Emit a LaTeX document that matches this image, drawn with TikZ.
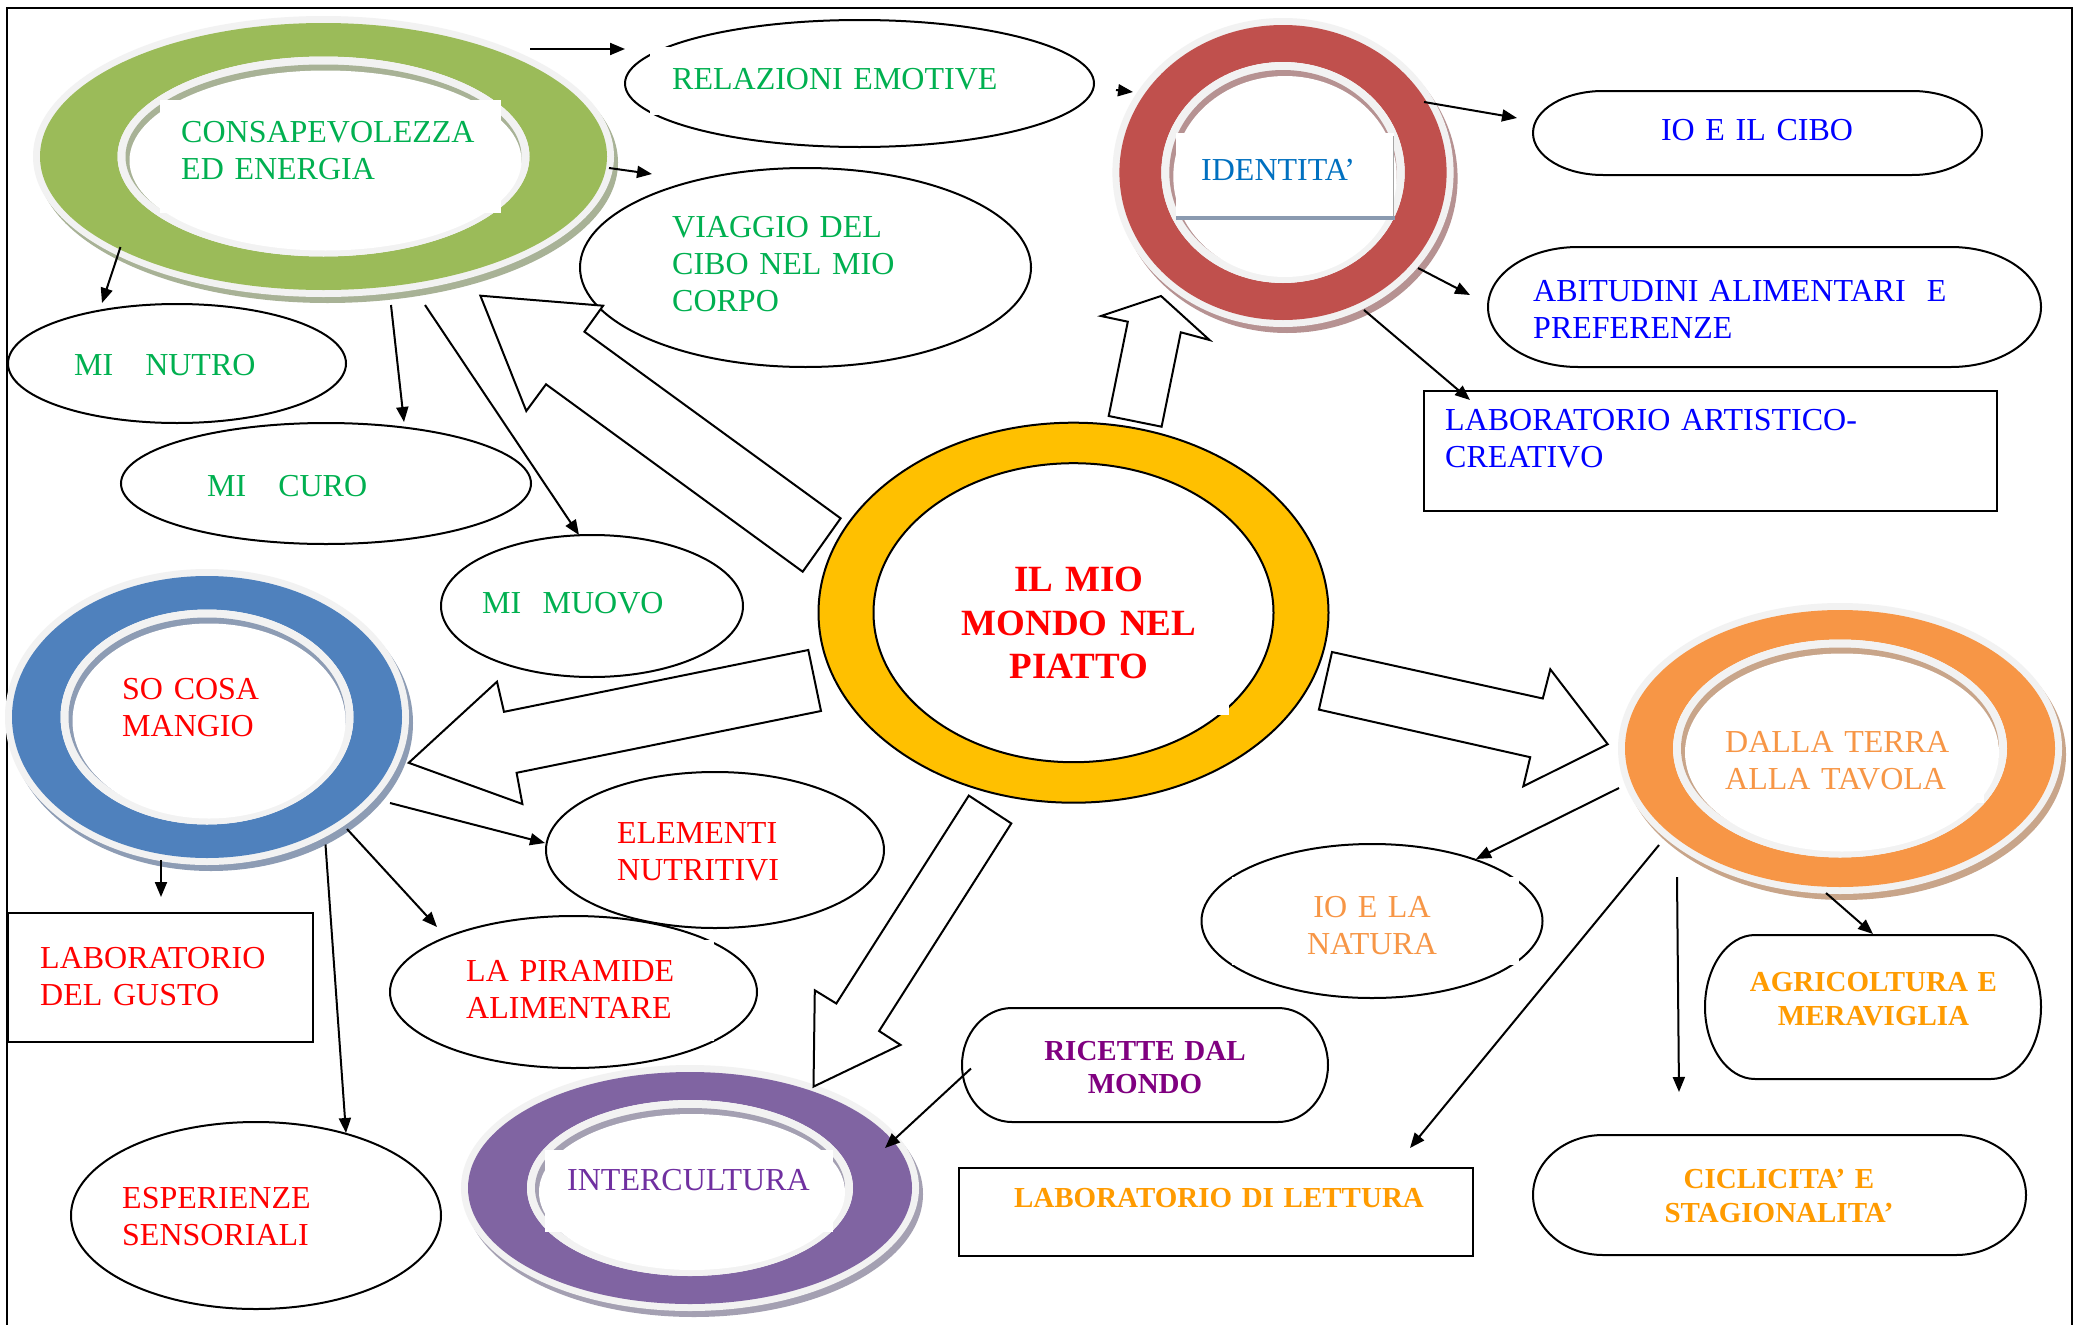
\documentclass[tikz,border=0pt]{standalone}
\usepackage{fontspec}
\setmainfont{Liberation Serif}
\usetikzlibrary{arrows.meta,shapes.geometric}
\definecolor{gring}{RGB}{155,187,89}
\definecolor{gshad}{RGB}{168,178,150}
\definecolor{rring}{RGB}{192,80,77}
\definecolor{rshad}{RGB}{182,146,146}
\definecolor{bring}{RGB}{79,129,189}
\definecolor{bshad}{RGB}{141,156,180}
\definecolor{pring}{RGB}{128,100,162}
\definecolor{pshad}{RGB}{164,160,178}
\definecolor{oring}{RGB}{247,150,70}
\definecolor{oshad}{RGB}{200,165,138}
\definecolor{yring}{RGB}{255,192,0}
\definecolor{rimgray}{RGB}{242,242,242}
\definecolor{tgreen}{RGB}{0,176,80}
\definecolor{tred}{RGB}{255,0,0}
\definecolor{tblue}{RGB}{0,0,255}
\definecolor{tidblue}{RGB}{0,112,192}
\definecolor{tpurple}{RGB}{112,48,160}
\definecolor{tmag}{RGB}{128,0,128}
\definecolor{torange}{RGB}{255,155,0}
\definecolor{tlorange}{RGB}{247,150,70}
\definecolor{idline}{RGB}{138,154,176}
\newcommand\drawring[8]{%
  \fill[#8] (#1+4,#2+6) ellipse [x radius=#3+7, y radius=#4+7];
  \fill[rimgray] (#1,#2) ellipse [x radius=#3+7, y radius=#4+7];
  \fill[#7, even odd rule] (#1,#2) ellipse [x radius=#3, y radius=#4] (#1,#2) ellipse [x radius=#5, y radius=#6];
  \fill[rimgray] (#1,#2) ellipse [x radius=#5, y radius=#6];
  \fill[#8] (#1,#2) ellipse [x radius=#5-8, y radius=#6-8];
  \fill[white] (#1+2,#2+4) ellipse [x radius=#5-10, y radius=#6-10];
}
% pill: name, x1, y1, x2, y2, rx, ry
\newcommand\drawpill[7]{%
  \coordinate (#1) at ({(#2+#4)/2},{(#3+#5)/2});
  \draw[outl] (#2+#6,#3) -- (#4-#6,#3)
    .. controls (#4-#6+0.5523*#6,#3) and (#4,#3+#7-0.5523*#7) .. (#4,#3+#7)
    -- (#4,#5-#7)
    .. controls (#4,#5-#7+0.5523*#7) and (#4-#6+0.5523*#6,#5) .. (#4-#6,#5)
    -- (#2+#6,#5)
    .. controls (#2+#6-0.5523*#6,#5) and (#2,#5-#7+0.5523*#7) .. (#2,#5-#7)
    -- (#2,#3+#7)
    .. controls (#2,#3+#7-0.5523*#7) and (#2+#6-0.5523*#6,#3) .. (#2+#6,#3) -- cycle;
}
\tikzset{
  outl/.style={draw=black, line width=2pt},
  ell/.style={ellipse, draw=black, line width=2pt, inner sep=0pt},
  boxr/.style={rectangle, draw=black, line width=2pt, inner sep=0pt},
  arr/.style={draw=black, line width=2pt, -{Triangle[length=15pt,width=12pt]}},
  hollow/.style={draw=black, line width=2pt, fill=white, line join=miter},
  txt/.style={inner sep=0pt, anchor=base west, align=left, text width=#1},
  ctxt/.style={inner sep=0pt, anchor=base, align=center, text width=#1},
  reg/.style={font=\fontsize{32}{37}\selectfont},
  bld/.style={font=\fontsize{29}{34}\selectfont\bfseries},
  ringnode/.style={ellipse, inner sep=0pt}
}
\begin{document}
\begin{tikzpicture}[x=1pt,y=-1pt]
\useasboundingbox (0,0) rectangle (2080,1325);
\fill[white] (0,0) rectangle (2080,1325);
\draw[line width=2pt] (7,8) rectangle (2072,1345);

% ---------- rings ----------
\drawring{323.5}{156.5}{283.5}{133.5}{206}{100}{gring}{gshad}
\node[ringnode, minimum width=567pt, minimum height=267pt] (ringG) at (323.5,156.5) {};
\drawring{1283}{172.5}{163.6}{147.5}{121.7}{110.5}{rring}{rshad}
\node[ringnode, minimum width=327pt, minimum height=295pt] (ringR) at (1283,172.5) {};
\drawring{207}{717}{195}{141}{146.5}{107.5}{bring}{bshad}
\node[ringnode, minimum width=390pt, minimum height=282pt] (ringB) at (207,717) {};
\drawring{690}{1188}{222}{116}{163}{88}{pring}{pshad}
\node[ringnode, minimum width=444pt, minimum height=232pt] (ringP) at (690,1188) {};
\drawring{1840}{748.5}{215}{138.5}{167}{109}{oring}{oshad}
\node[ringnode, minimum width=430pt, minimum height=277pt] (ringO) at (1840,748.5) {};
\draw[fill=yring, even odd rule, line width=2pt] (1073.5,612.7) ellipse [x radius=255, y radius=190] (1073.5,612.7) ellipse [x radius=200, y radius=149.5];
\node[ringnode, minimum width=510pt, minimum height=380pt] (ringC) at (1073.5,612.7) {};

% ---------- ellipses, boxes, pills ----------
\node[ell, minimum width=469pt, minimum height=127pt] (eRel) at (859.5,83.5) {};
\node[ell, minimum width=451pt, minimum height=199pt] (eVia) at (805.5,267.5) {};
\node[ell, minimum width=338pt, minimum height=119pt] (eNut) at (177,363.5) {};
\node[ell, minimum width=410pt, minimum height=121pt] (eCur) at (326,483.5) {};
\node[ell, minimum width=302pt, minimum height=142pt] (eMuo) at (592,606) {};
\node[ell, minimum width=338pt, minimum height=156pt] (eEle) at (715,850) {};
\node[ell, minimum width=367pt, minimum height=152pt] (ePir) at (573.5,992) {};
\node[ell, minimum width=370pt, minimum height=187pt] (eEsp) at (256,1215.5) {};
\node[ell, minimum width=341pt, minimum height=154pt] (eNat) at (1372,921) {};
\node[boxr, minimum width=305.5pt, minimum height=129pt] (bGus) at (160.25,977.5) {};
\node[boxr, minimum width=514pt, minimum height=87.5pt] (bLet) at (1216,1211.75) {};
\node[boxr, minimum width=572.5pt, minimum height=120pt] (bArt) at (1710.25,451) {};
\drawpill{pRic}{962}{1008}{1328}{1122}{50}{57}
\drawpill{pAgr}{1705}{935}{2041}{1079}{50}{72}
\drawpill{pCic}{1533}{1135}{2026}{1255}{70}{60}
\drawpill{pCib}{1533}{91}{1982}{175}{70}{42}
\drawpill{pAbi}{1488}{247}{2041}{367}{90}{60}

% ---------- white text-box patches ----------
\fill[white] (650,47) rectangle (1040,115);
\fill[white] (460,940) rectangle (714,1041);
\fill[white] (1232,877) rectangle (1519,965);
\fill[white] (160,100) rectangle (501,213);
\fill[white] (545,1150) rectangle (833,1232);
\fill[white] (1722,715) rectangle (1984,803);
\fill[white] (950,560) rectangle (1229,715);
\fill[white] (1176,133) rectangle (1394,220);
\draw[line width=1pt, draw=black!35] (1393.5,136) -- (1393.5,220);
\draw[line width=4pt, draw=idline] (1176,218) -- (1395,218);

% ---------- hollow block arrows ----------
\draw[hollow] (480.4,295.7) -- (603.1,305.7) -- (584.4,331.7) -- (840.6,518.3) -- (802.7,571.7) -- (546,384.3) -- (526.3,411) -- cycle;
\draw[hollow] (1161,296) -- (1209.5,340) -- (1180.8,332.3) -- (1161.6,426.7) -- (1108.7,416) -- (1127.8,321.7) -- (1101,316) -- cycle;
\draw[hollow] (408.7,762.8) -- (497,681.7) -- (504,711.8) -- (808.3,650) -- (821,711) -- (516.6,772.8) -- (522.4,804) -- cycle;
\draw[hollow] (813.5,1086.6) -- (814.8,990.3) -- (836.3,1003.5) -- (968.8,795.6) -- (1011.3,823.4) -- (879.1,1031) -- (900.5,1044.9) -- cycle;
\draw[hollow] (1607.7,744.2) -- (1523.3,786.3) -- (1530.2,757.2) -- (1318.9,709.6) -- (1332,652) -- (1542.8,698.5) -- (1550.3,669.3) -- cycle;

% ---------- connector end points ----------
\coordinate (a1s) at (530,49);      \coordinate (a1e) at (625,49);
\coordinate (a2s) at (609,168);     \coordinate (a2e) at (652,174);
\coordinate (a3s) at (120.5,247);   \coordinate (a3e) at (102,303);
\coordinate (a4s) at (391,305);     \coordinate (a4e) at (404,422);
\coordinate (a5s) at (425,305);     \coordinate (a5e) at (579,535);
\coordinate (a6s) at (1116,90);     \coordinate (a6e) at (1133,92);
\coordinate (a7s) at (1424,102);    \coordinate (a7e) at (1517,118);
\coordinate (a8s) at (1418,268);    \coordinate (a8e) at (1470,295);
\coordinate (a9s) at (1364,310);    \coordinate (a9e) at (1470,400);
\coordinate (b1s) at (390,803);     \coordinate (b1e) at (545,843);
\coordinate (b2s) at (347,829);     \coordinate (b2e) at (437,927);
\coordinate (b3s) at (161,860);     \coordinate (b3e) at (161,897);
\coordinate (b4s) at (325.5,844.5); \coordinate (b4e) at (346,1133);
\coordinate (c1s) at (971,1068.5);  \coordinate (c1e) at (885,1148);
\coordinate (o1s) at (1619,788);    \coordinate (o1e) at (1476,859);
\coordinate (o2s) at (1659,845);    \coordinate (o2e) at (1410,1148);
\coordinate (o3s) at (1677,877);    \coordinate (o3e) at (1679,1092);
\coordinate (o4s) at (1826,893);    \coordinate (o4e) at (1873,934);

\draw[arr] (a1s) -- (a1e);
\draw[arr] (a2s) -- (a2e);
\draw[arr] (a3s) -- (a3e);
\draw[arr] (a4s) -- (a4e);
\draw[arr] (a5s) -- (a5e);
\draw[arr] (a6s) -- (a6e);
\draw[arr] (a7s) -- (a7e);
\draw[arr] (a8s) -- (a8e);
\draw[arr] (a9s) -- (a9e);
\draw[arr] (b1s) -- (b1e);
\draw[arr] (b2s) -- (b2e);
\draw[arr] (b3s) -- (b3e);
\draw[arr] (b4s) -- (b4e);
\draw[arr] (c1s) -- (c1e);
\draw[arr] (o1s) -- (o1e);
\draw[arr] (o2s) -- (o2e);
\draw[arr] (o3s) -- (o3e);
\draw[arr] (o4s) -- (o4e);

% ---------- texts ----------
\node[txt=330pt, reg, text=tgreen] (tCons) at (181,142) {CONSAPEVOLEZZA\\ED ENERGIA};
\node[txt=400pt, reg, text=tgreen] (tRel) at (672,89) {RELAZIONI EMOTIVE};
\node[txt=330pt, reg, text=tgreen] (tVia) at (672,237) {VIAGGIO DEL\\CIBO NEL MIO\\CORPO};
\node[txt=250pt, reg, text=tgreen] (tNut) at (74,375) {MI\ \ \ NUTRO};
\node[txt=250pt, reg, text=tgreen] (tCur) at (207,496) {MI\ \ \ CURO};
\node[txt=250pt, reg, text=tgreen] (tMuo) at (482,613) {MI\ \ MUOVO};
\node[txt=250pt, reg, text=tred] (tSo) at (122,699) {SO COSA\\MANGIO};
\node[txt=250pt, reg, text=tred] (tEle) at (617,843) {ELEMENTI\\NUTRITIVI};
\node[txt=280pt, reg, text=tred] (tPir) at (466,981) {LA PIRAMIDE\\ALIMENTARE};
\node[txt=260pt, reg, text=tred] (tGus) at (40,968) {LABORATORIO\\DEL GUSTO};
\node[txt=280pt, reg, text=tred] (tEsp) at (122,1208.5) {ESPERIENZE\\SENSORIALI};
\node[txt=300pt, reg, text=tpurple] (tInt) at (567,1190) {INTERCULTURA};
\node[ctxt=360pt, bld, text=tmag, font=\fontsize{29}{33}\selectfont\bfseries] (tRic) at (1145,1060) {RICETTE DAL\\MONDO};
\node[ctxt=500pt, bld, text=torange] (tLet) at (1219,1207.5) {LABORATORIO DI LETTURA};
\node[ctxt=330pt, reg, text=tlorange] (tNat) at (1372,917) {IO E LA\\NATURA};
\node[txt=330pt, reg, text=tlorange] (tDal) at (1725,752.6) {DALLA TERRA\\ALLA TAVOLA};
\node[ctxt=330pt, bld, text=torange] (tAgr) at (1873.5,991) {AGRICOLTURA E\\MERAVIGLIA};
\node[ctxt=480pt, bld, text=torange] (tCic) at (1779,1188) {CICLICITA’ E\\STAGIONALITA’};
\node[ctxt=380pt, text=tred, font=\fontsize{37}{43.5}\selectfont\bfseries] (tCen) at (1079,591.7) {IL MIO\\MONDO NEL\\PIATTO};
\node[txt=230pt, reg, text=tidblue] (tId) at (1201,180) {IDENTITA’};
\node[ctxt=440pt, reg, text=tblue] (tCib) at (1757,140) {IO E IL CIBO};
\node[txt=520pt, reg, text=tblue] (tAbi) at (1533,301.7) {ABITUDINI ALIMENTARI\ \ E\\PREFERENZE};
\node[txt=540pt, reg, text=tblue] (tArt) at (1445,430) {LABORATORIO ARTISTICO-\\CREATIVO};
\end{tikzpicture}
\end{document}
